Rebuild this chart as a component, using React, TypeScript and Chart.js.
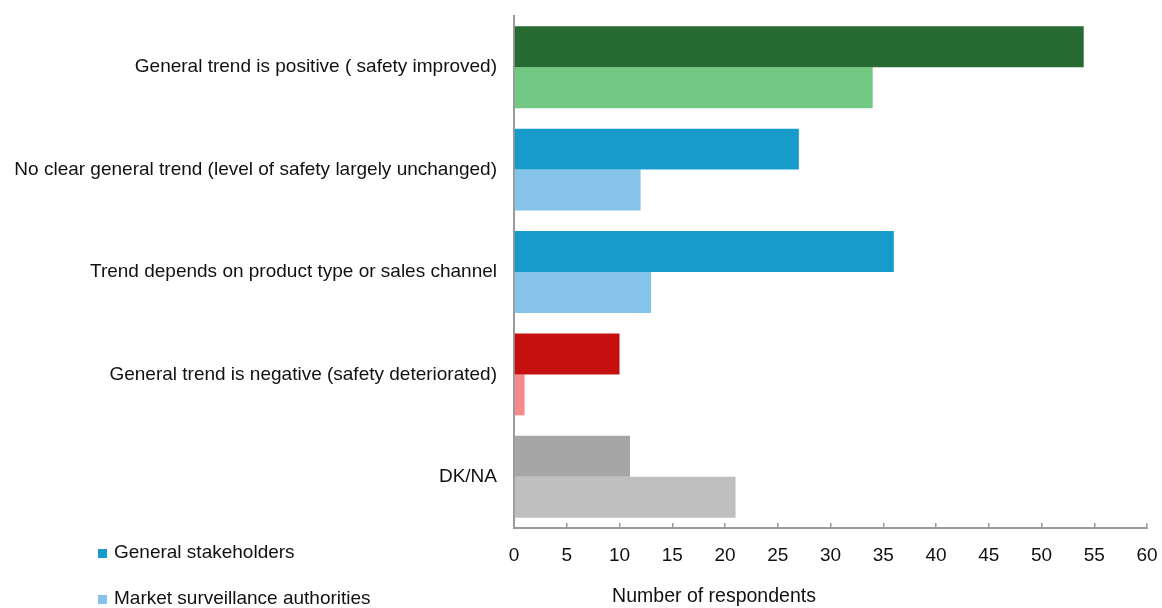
import React, { useEffect, useRef } from "react";
import { Chart, registerables } from "chart.js";

Chart.register(...registerables);

const categories = [
  "General trend is positive ( safety improved)",
  "No clear general trend (level of safety largely unchanged)",
  "Trend depends on product type or sales channel",
  "General trend is negative (safety deteriorated)",
  "DK/NA",
];
const stakeholderValues = [54, 27, 36, 10, 11];
const authorityValues = [34, 12, 13, 1, 21];
const stakeholderColors = ["#276B33", "#179BCB", "#179BCB", "#C61010", "#A6A6A6"];
const authorityColors = ["#73C983", "#86C3EA", "#86C3EA", "#F58A8A", "#BFBFBF"];
const seriesLabels = ["General stakeholders", "Market surveillance authorities"];
const legendColors = ["#179BCB", "#86C3EA"];
const xTitle = "Number of respondents";

const FONT = "'Liberation Sans', Arial, sans-serif";

const overlayPlugin = {
  id: "overlay",
  afterDraw(chart: any) {
    const ctx = chart.ctx;
    ctx.save();
    ctx.font = `19px ${FONT}`;
    ctx.fillStyle = "#111";
    ctx.textBaseline = "middle";
    const ys = [553, 599];
    seriesLabels.forEach((label, i) => {
      ctx.fillStyle = legendColors[i];
      ctx.fillRect(98, ys[i] - 4, 9, 9);
      ctx.fillStyle = "#111";
      ctx.textAlign = "left";
      ctx.fillText(label, 114, ys[i]);
    });
    ctx.textAlign = "center";
    ctx.font = `19.5px ${FONT}`;
    ctx.fillText(xTitle, 714, 597);
    ctx.restore();
  },
};

export default function App() {
  const ref = useRef<HTMLCanvasElement>(null);
  useEffect(() => {
    document.body.style.margin = "0";
    const chart = new Chart(ref.current!, {
      type: "bar",
      data: {
        labels: categories,
        datasets: [
          {
            label: seriesLabels[0],
            data: stakeholderValues,
            backgroundColor: stakeholderColors,
            categoryPercentage: 0.8,
            barPercentage: 1.0,
          },
          {
            label: seriesLabels[1],
            data: authorityValues,
            backgroundColor: authorityColors,
            categoryPercentage: 0.8,
            barPercentage: 1.0,
          },
        ],
      },
      options: {
        indexAxis: "y",
        animation: false,
        responsive: false,
        maintainAspectRatio: false,
        layout: { padding: { top: 16, right: 15, left: 0, bottom: 0 } },
        plugins: {
          legend: { display: false },
          tooltip: { enabled: false },
        },
        scales: {
          x: {
            min: 0,
            max: 60,
            ticks: {
              stepSize: 5,
              color: "#111",
              font: { size: 19, family: FONT },
              padding: 21,
            },
            grid: {
              display: true,
              drawOnChartArea: false,
              drawTicks: true,
              tickLength: -5,
              color: "#9a9a9a",
              lineWidth: 1.5,
            },
            border: { display: true, color: "#9a9a9a", width: 2 },
            afterFit: (scale: any) => {
              scale.height = 80;
              scale.paddingLeft = 0;
              scale.paddingRight = 0;
            },
          },
          y: {
            ticks: {
              color: "#111",
              font: { size: 19, family: FONT },
              padding: 17,
            },
            grid: { display: false, drawTicks: false },
            border: { display: true, color: "#9a9a9a", width: 2 },
            afterFit: (scale: any) => {
              scale.width = 514;
              scale.paddingTop = 0;
              scale.paddingBottom = 0;
            },
          },
        },
      },
      plugins: [overlayPlugin],
    });
    return () => chart.destroy();
  }, []);
  return (
    <div style={{ position: "absolute", left: 0, top: 0, width: 1162, height: 608 }}>
      <canvas ref={ref} width={1162} height={608} />
    </div>
  );
}
